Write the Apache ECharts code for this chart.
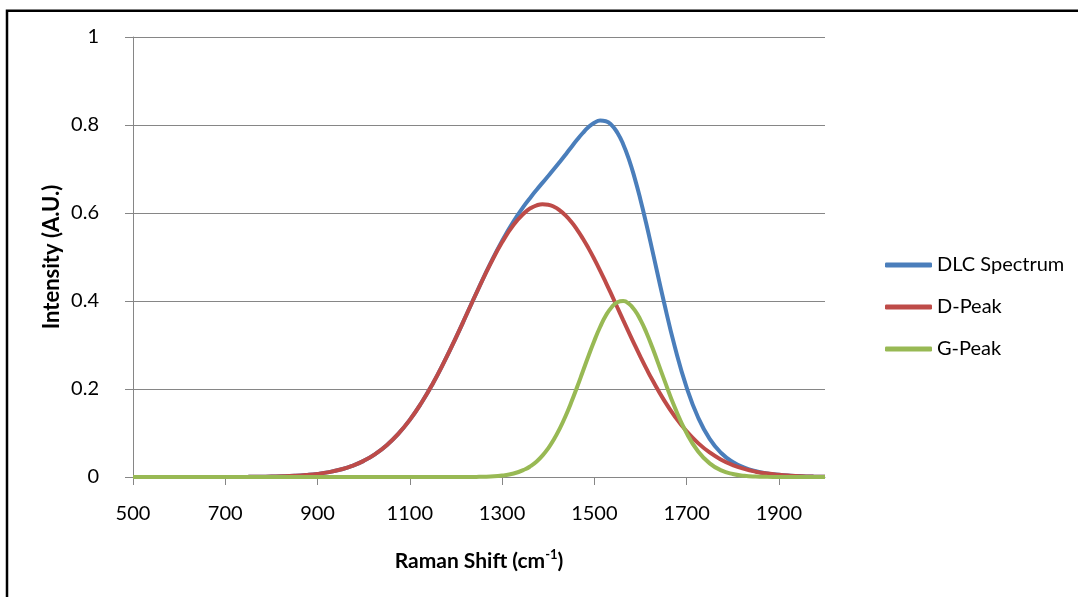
<!DOCTYPE html>
<html>
<head>
<meta charset="utf-8">
<title>DLC Raman spectrum</title>
<script src="https://cdn.jsdelivr.net/npm/echarts@6/dist/echarts.min.js"></script>
<style>
  html, body { margin: 0; padding: 0; background: #fff; }
  #main { width: 1078px; height: 597px; }
</style>
</head>
<body>
<div id="main"></div>
<script>
// Raman shift samples (cm-1), denser around the peaks
const shifts = [
  500, 525, 550, 575, 600, 625, 650, 675, 700, 725, 750, 775,
  800, 825, 850, 875, 900, 925, 950, 975, 1000, 1025, 1050, 1075,
  1100, 1125, 1150, 1175, 1200, 1225, 1250, 1275, 1300, 1325,
  1350, 1362.5, 1375, 1387.5, 1400, 1412.5, 1425, 1437.5, 1450, 1462.5, 1475, 1487.5,
  1500, 1512.5, 1525, 1537.5, 1550, 1562.5, 1575, 1587.5, 1600, 1612.5, 1625,
  1650, 1675, 1700, 1725, 1750, 1775, 1800, 1825, 1850, 1875, 1900, 1925, 1950, 1975, 2000
];

const dPeak = [
  0, 0, 0, 0, 0, 0, 0, 0.0001, 0.0001, 0.0002, 0.0003, 0.0005,
  0.0010, 0.0016, 0.0027, 0.0045, 0.0071, 0.0111, 0.0170, 0.0252, 0.0367, 0.0521, 0.0723, 0.0980,
  0.1298, 0.1681, 0.2125, 0.2626, 0.3169, 0.3738, 0.4307, 0.4848, 0.5333, 0.5732,
  0.6018, 0.6113, 0.6174, 0.6199, 0.6188, 0.6142, 0.6060, 0.5945, 0.5799, 0.5623, 0.5421, 0.5196,
  0.4951, 0.4691, 0.4419, 0.4138, 0.3852, 0.3566, 0.3282, 0.3002, 0.2731, 0.2470, 0.2221,
  0.1765, 0.1370, 0.1039, 0.0770, 0.0557, 0.0394, 0.0272, 0.0184, 0.0121, 0.0078, 0.0049, 0.0030, 0.0018, 0.0011, 0.0006
];

const gPeak = [
  0, 0, 0, 0, 0, 0, 0, 0, 0, 0, 0, 0,
  0, 0, 0, 0, 0, 0, 0, 0, 0, 0, 0, 0,
  0, 0, 0, 0, 0, 0, 0.0004, 0.0013, 0.0033, 0.0080,
  0.0176, 0.0252, 0.0354, 0.0486, 0.0652, 0.0856, 0.1100, 0.1381, 0.1697, 0.2040, 0.2397, 0.2756,
  0.3099, 0.3409, 0.3668, 0.3859, 0.3972, 0.3998, 0.3937, 0.3791, 0.3571, 0.3290, 0.2965,
  0.2253, 0.1567, 0.0998, 0.0581, 0.0310, 0.0151, 0.0068, 0.0028, 0.0010, 0.0004, 0.0001, 0, 0, 0, 0
];

const dlcSpectrum = [
  0, 0, 0, 0, 0, 0, 0, 0.0001, 0.0001, 0.0002, 0.0003, 0.0005,
  0.0010, 0.0016, 0.0027, 0.0045, 0.0071, 0.0111, 0.0170, 0.0252, 0.0367, 0.0521, 0.0723, 0.0980,
  0.1298, 0.1681, 0.2125, 0.2626, 0.3169, 0.3738, 0.4311, 0.4861, 0.5366, 0.5812,
  0.6194, 0.6365, 0.6528, 0.6685, 0.6840, 0.6998, 0.7160, 0.7326, 0.7496, 0.7663, 0.7818, 0.7952,
  0.8050, 0.8100, 0.8087, 0.7997, 0.7824, 0.7564, 0.7219, 0.6793, 0.6302, 0.5760, 0.5186,
  0.4018, 0.2937, 0.2037, 0.1351, 0.0867, 0.0545, 0.0340, 0.0212, 0.0131, 0.0082, 0.0050, 0.0030, 0.0018, 0.0011, 0.0006
];

const seriesNames = ['DLC Spectrum', 'D-Peak', 'G-Peak'];
const seriesColors = ['#4A7EBB', '#BE4B48', '#98B954'];

function pairs(ys) {
  return shifts.map((x, i) => [x, ys[i]]);
}

const chart = echarts.init(document.getElementById('main'));
const font = 'Lato, "Open Sans", sans-serif';

chart.setOption({
  animation: false,
  textStyle: { fontFamily: font },
  grid: { left: 133, right: 253, top: 37, bottom: 120 },
  graphic: [{
    type: 'rect',
    shape: { x: 7, y: 10.7, width: 1100, height: 640 },
    style: { fill: 'none', stroke: '#000', lineWidth: 2.5 },
    silent: true
  }],
  legend: {
    orient: 'vertical',
    left: 880,
    top: 250,
    icon: 'roundRect',
    itemWidth: 47,
    itemHeight: 5,
    itemGap: 22,
    textStyle: { fontFamily: font, fontSize: 20, color: '#000', lineHeight: 20 },
    data: seriesNames
  },
  xAxis: {
    type: 'value',
    min: 500,
    max: 2000,
    interval: 200,
    name: '{a|Raman Shift (cm}{s|-1}{a|)}',
    nameLocation: 'middle',
    nameGap: 71,
    nameTextStyle: {
      rich: {
        a: { fontFamily: font, fontSize: 21, fontWeight: 'bold', color: '#000', lineHeight: 24, verticalAlign: 'bottom' },
        s: { fontFamily: font, fontSize: 13, fontWeight: 'bold', color: '#000', lineHeight: 24, verticalAlign: 'top' }
      }
    },
    axisLine: { lineStyle: { color: '#868686', width: 1 } },
    axisTick: { length: 8, lineStyle: { color: '#868686' } },
    axisLabel: {
      fontSize: 20, color: '#000', margin: 27, showMaxLabel: false,
      formatter: (v) => String(v)
    },
    splitLine: { show: false }
  },
  yAxis: {
    type: 'value',
    min: 0,
    max: 1,
    interval: 0.2,
    name: 'Intensity (A.U.)',
    nameLocation: 'middle',
    nameGap: 70,
    nameMoveOverlap: false,
    nameTextStyle: { fontFamily: font, fontSize: 22, fontWeight: 'bold', color: '#000' },
    axisLine: { show: true, lineStyle: { color: '#868686', width: 1 } },
    axisTick: { show: true, length: 8, lineStyle: { color: '#868686' } },
    axisLabel: { fontSize: 20, color: '#000', margin: 34, formatter: (v) => String(v) },
    splitLine: { lineStyle: { color: '#868686', width: 1 } }
  },
  series: seriesNames.map((name, i) => ({
    name: name,
    type: 'line',
    smooth: true,
    symbol: 'none',
    color: seriesColors[i],
    lineStyle: { width: 4, color: seriesColors[i] },
    data: pairs([dlcSpectrum, dPeak, gPeak][i])
  }))
});
</script>
</body>
</html>
